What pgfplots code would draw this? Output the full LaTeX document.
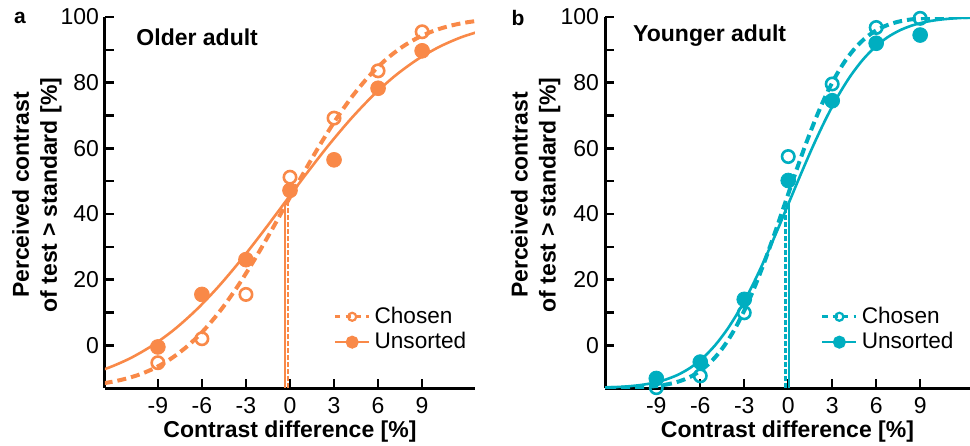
\documentclass[border=0pt]{standalone}
\usepackage{fontspec}
\setmainfont{Liberation Sans}
\usepackage{pgfplots}
\pgfplotsset{compat=1.18}
\definecolor{orC}{RGB}{249,137,72}
\definecolor{cyC}{RGB}{0,174,192}
\pgfplotsset{
  panel/.style={
    scale only axis, height=185.5pt,
    ymin=-13, ymax=100,
    axis lines=left,
    axis line style={-, line width=1.5pt, black},
    xtick={-9,-6,-3,0,3,6,9},
    xticklabels={-9,-6,-3,0,3,6,9},
    ytick={0,20,40,60,80,100},
    yticklabels={0,20,40,60,80,100},
    minor ytick={10,30,50,70,90},
    tick align=inside,
    major tick length=4.5pt, minor tick length=4.5pt,
    tick style={black, line width=1.2pt},
    ticklabel style={font=\fontsize{11.5}{13}\selectfont},
    /pgf/number format/assume math mode=true,
    xticklabel style={yshift=-1pt},
    yticklabel style={xshift=0.5pt},
    xlabel={Contrast difference [\%]},
    ylabel={Perceived contrast\\of test > standard [\%]},
    label style={font=\fontsize{11.5}{14}\selectfont\bfseries, align=center},
    xlabel style={at={(axis description cs:0.5,-0.118)}, anchor=center},
    legend style={draw=none, fill=none, font=\fontsize{11.3}{13}\selectfont, row sep=-1pt, legend cell align=left},
  },
  fitd/.style={line width=2pt, dash pattern=on 4.5pt off 2.5pt, smooth},
  fits/.style={line width=1.3pt, smooth},
  openm/.style={only marks, mark=o, mark size=3.1pt, mark options={solid, line width=1.3pt}},
  fillm/.style={only marks, mark=*, mark size=3.7pt},
}
\begin{document}
\begin{tikzpicture}
\path[use as bounding box] (-52.5pt,-28.5pt) rectangle (432.5pt,194pt);
% ---------------- panel a ----------------
\begin{axis}[panel, at={(0pt,0pt)}, anchor=south west, width=185pt,
  xmin=-12.6, xmax=12.6,
  ylabel style={at={(axis description cs:-0.184,0.52)}, anchor=center},
  legend style={at={(axis cs:2.55,14.2)}, anchor=north west}]
\addlegendimage{orC, line width=1.3pt, dash pattern=on 2.6pt off 2.6pt, mark=o, mark size=2pt, mark options={solid, line width=1.1pt}}
\addlegendentry{Chosen}
\addlegendimage{orC, line width=1.3pt, mark=*, mark size=2.6pt}
\addlegendentry{Unsorted}
% vertical PSE lines
\addplot[orC, line width=1.2pt, forget plot] coordinates {(-0.33,-13) (-0.33,43.5)};
\addplot[orC, line width=1.1pt, dash pattern=on 2.5pt off 1pt, forget plot] coordinates {(-0.14,-13) (-0.14,43.5)};
% fitted curves
\addplot[orC, fitd, forget plot] coordinates {(-13.64,-12.07)(-12.52,-11.43)(-11.4,-10.42)(-10.28,-8.94)(-9.16,-6.81)(-8.04,-3.87)(-6.92,0.01)(-5.8,4.93)(-4.68,10.94)(-3.56,18.00)(-2.44,25.94)(-1.32,34.54)(-0.2,43.5)(0.92,52.46)(2.04,61.06)(3.16,69.00)(4.28,76.06)(5.4,82.07)(6.52,86.99)(7.64,90.87)(8.76,93.81)(9.88,95.94)(11.0,97.42)(12.12,98.43)(13.24,99.07)};
\addplot[orC, fits, forget plot] coordinates {(-13.85,-8.94)(-12.35,-6.81)(-10.85,-3.87)(-9.35,0.01)(-7.85,4.93)(-6.35,10.94)(-4.85,18.00)(-3.35,25.94)(-1.85,34.54)(-0.35,43.5)(1.15,52.46)(2.65,61.06)(4.15,69.00)(5.65,76.06)(7.15,82.07)(8.65,86.99)(10.15,90.87)(11.65,93.81)(13.15,95.94)};
% data
\addplot[orC, openm, forget plot] coordinates {(-9,-5.3)(-6,2.0)(-3,15.5)(0,51.2)(3,69.2)(6,83.6)(9,95.5)};
\addplot[orC, fillm, forget plot] coordinates {(-9,-0.5)(-6,15.5)(-3,26.1)(0,47.2)(3,56.5)(6,78.3)(9,89.7)};
\node[anchor=west, font=\fontsize{11.5}{13}\selectfont\bfseries] at (rel axis cs:0.066,0.946) {Older adult};
\end{axis}
% ---------------- panel b ----------------
\begin{axis}[panel, at={(250pt,0pt)}, anchor=south west, width=182.5pt,
  xmin=-12.5, xmax=12.4,
  ylabel style={at={(axis description cs:-0.19,0.52)}, anchor=center},
  legend style={at={(axis cs:1.8,14.2)}, anchor=north west}]
\addlegendimage{cyC, line width=1.3pt, dash pattern=on 2.6pt off 2.6pt, mark=o, mark size=2pt, mark options={solid, line width=1.1pt}}
\addlegendentry{Chosen}
\addlegendimage{cyC, line width=1.3pt, mark=*, mark size=2.6pt}
\addlegendentry{Unsorted}
\addplot[cyC, line width=1.1pt, dash pattern=on 2.5pt off 1pt, forget plot] coordinates {(-0.18,-13) (-0.18,43.5)};
\addplot[cyC, line width=1.2pt, forget plot] coordinates {(0.05,-13) (0.05,43.5)};
\addplot[cyC, fitd, forget plot] coordinates {(-13.31,-12.99)(-11.93,-12.96)(-10.55,-12.85)(-9.86,-12.71)(-9.17,-12.47)(-8.48,-12.07)(-7.79,-11.43)(-7.1,-10.42)(-6.41,-8.94)(-5.72,-6.81)(-5.03,-3.87)(-4.34,0.01)(-3.65,4.93)(-2.96,10.94)(-2.27,18.00)(-1.58,25.94)(-0.89,34.54)(-0.2,43.5)(0.49,52.46)(1.18,61.06)(1.87,69.00)(2.56,76.06)(3.25,82.07)(3.94,86.99)(4.63,90.87)(5.32,93.81)(6.01,95.94)(6.7,97.42)(7.39,98.43)(8.08,99.07)(8.77,99.47)(9.46,99.71)(10.15,99.85)(11.53,99.96)(12.91,99.99)};
\addplot[cyC, fits, forget plot] coordinates {(-14.23,-12.96)(-12.55,-12.85)(-11.71,-12.71)(-10.87,-12.47)(-10.03,-12.07)(-9.19,-11.43)(-8.35,-10.42)(-7.51,-8.94)(-6.67,-6.81)(-5.83,-3.87)(-4.99,0.01)(-4.15,4.93)(-3.31,10.94)(-2.47,18.00)(-1.63,25.94)(-0.79,34.54)(0.05,43.5)(0.89,52.46)(1.73,61.06)(2.57,69.00)(3.41,76.06)(4.25,82.07)(5.09,86.99)(5.93,90.87)(6.77,93.81)(7.61,95.94)(8.45,97.42)(9.29,98.43)(10.13,99.07)(10.97,99.47)(11.81,99.71)(12.65,99.85)};
\addplot[cyC, openm, forget plot] coordinates {(-9,-12.9)(-6,-9.3)(-3,9.9)(0,57.5)(3,79.6)(6,96.8)(9,99.6)};
\addplot[cyC, fillm, forget plot] coordinates {(-9,-10.1)(-6,-5.1)(-3,14.0)(0,50.2)(3,74.5)(6,92.0)(9,94.5)};
\node[anchor=west, font=\fontsize{11.5}{13}\selectfont\bfseries] at (rel axis cs:0.058,0.95) {Younger adult};
\end{axis}
\node[font=\fontsize{10.5}{12}\selectfont\bfseries] at (-42.5pt,185pt) {a};
\node[font=\fontsize{10.5}{12}\selectfont\bfseries] at (206.5pt,185pt) {b};
\end{tikzpicture}
\end{document}
